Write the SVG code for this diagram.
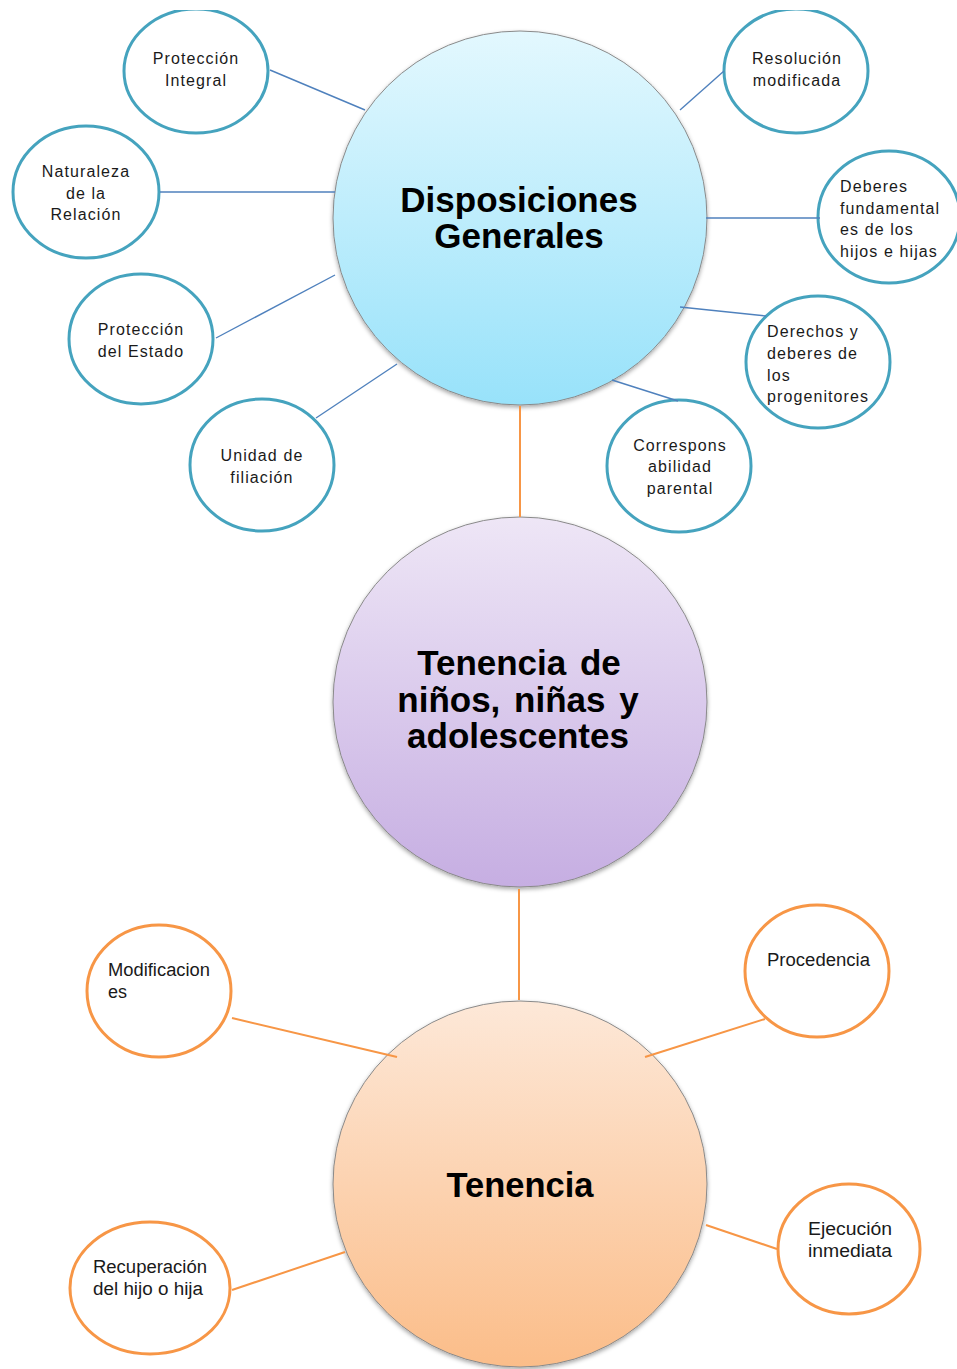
<svg xmlns="http://www.w3.org/2000/svg" width="957" height="1369" viewBox="0 0 957 1369">
  <style>
    .small-blue { fill: #ffffff; stroke: #45A3BE; stroke-width: 3; }
    .small-orange { fill: #ffffff; stroke: #F79646; stroke-width: 3; }
    .big { stroke: #8a8a8a; stroke-width: 1; filter: url(#shadow); }
    .lbl { font-family: "Liberation Sans", Arial, sans-serif; font-size: 16px; fill: #1a1a1a; letter-spacing: 1.1px; }
    .lbl-o { font-family: "Liberation Sans", Arial, sans-serif; font-size: 18px; fill: #1a1a1a; }
    .mid { text-anchor: middle; }
    .title { font-family: "Liberation Sans", Arial, sans-serif; font-size: 35px; font-weight: bold; fill: #000000; text-anchor: middle; }
    .conn-blue { stroke: #4F81BD; stroke-width: 1.4; fill: none; }
    .conn-orange { stroke: #F79646; stroke-width: 2; fill: none; }
  </style>
  <defs>
    <linearGradient id="gBlue" x1="0" y1="0" x2="0" y2="1">
      <stop offset="0" stop-color="#E3F8FE"/>
      <stop offset="1" stop-color="#98E2FA"/>
    </linearGradient>
    <linearGradient id="gPurple" x1="0" y1="0" x2="0" y2="1">
      <stop offset="0" stop-color="#EEE6F6"/>
      <stop offset="1" stop-color="#C6AEE2"/>
    </linearGradient>
    <linearGradient id="gOrange" x1="0" y1="0" x2="0" y2="1">
      <stop offset="0" stop-color="#FDE8D8"/>
      <stop offset="1" stop-color="#FBBD89"/>
    </linearGradient>
    <filter id="shadow" x="-10%" y="-10%" width="120%" height="125%">
      <feDropShadow dx="0" dy="2" stdDeviation="2" flood-color="#000000" flood-opacity="0.35"/>
    </filter>
  </defs>

  <rect x="0" y="0" width="957" height="1369" fill="#ffffff"/>

  <g id="node-disposiciones">
    <ellipse class="big" cx="520" cy="218" rx="187" ry="187" fill="url(#gBlue)"/>
    <text class="title" x="519" y="212">Disposiciones</text>
    <text class="title" x="519" y="248">Generales</text>
  </g>

  <g id="node-tenencia-nna">
    <ellipse class="big" cx="520" cy="702" rx="187" ry="185" fill="url(#gPurple)"/>
    <text class="title" x="519" y="675" word-spacing="4">Tenencia de</text>
    <text class="title" x="518" y="712" word-spacing="4">niños, niñas y</text>
    <text class="title" x="518" y="748">adolescentes</text>
  </g>

  <g id="node-tenencia">
    <ellipse class="big" cx="520" cy="1184" rx="187" ry="183" fill="url(#gOrange)"/>
    <text class="title" x="520" y="1197" textLength="147" lengthAdjust="spacingAndGlyphs">Tenencia</text>
  </g>

  <g id="node-proteccion-integral">
    <ellipse class="small-blue" cx="196" cy="71" rx="72" ry="62"/>
    <text class="lbl mid" x="196" y="64">Protección</text>
    <text class="lbl mid" x="196" y="86">Integral</text>
  </g>

  <g id="node-naturaleza">
    <ellipse class="small-blue" cx="86" cy="192" rx="73" ry="66"/>
    <text class="lbl mid" x="86" y="177">Naturaleza</text>
    <text class="lbl mid" x="86" y="199">de la</text>
    <text class="lbl mid" x="86" y="220">Relación</text>
  </g>

  <g id="node-proteccion-estado">
    <ellipse class="small-blue" cx="141" cy="339" rx="72" ry="65"/>
    <text class="lbl mid" x="141" y="335">Protección</text>
    <text class="lbl mid" x="141" y="357">del Estado</text>
  </g>

  <g id="node-unidad">
    <ellipse class="small-blue" cx="262" cy="465" rx="72" ry="66"/>
    <text class="lbl mid" x="262" y="461">Unidad de</text>
    <text class="lbl mid" x="262" y="483">filiación</text>
  </g>

  <g id="node-resolucion">
    <ellipse class="small-blue" cx="796" cy="71" rx="72" ry="62"/>
    <text class="lbl mid" x="797" y="64">Resolución</text>
    <text class="lbl mid" x="797" y="86">modificada</text>
  </g>

  <g id="node-deberes">
    <ellipse class="small-blue" cx="889" cy="217" rx="71" ry="66"/>
    <text class="lbl" x="840" y="192">Deberes</text>
    <text class="lbl" x="840" y="214">fundamental</text>
    <text class="lbl" x="840" y="235">es de los</text>
    <text class="lbl" x="840" y="257">hijos e hijas</text>
  </g>

  <g id="node-derechos">
    <ellipse class="small-blue" cx="818" cy="362" rx="72" ry="66"/>
    <text class="lbl" x="767" y="337">Derechos y</text>
    <text class="lbl" x="767" y="359">deberes de</text>
    <text class="lbl" x="767" y="381">los</text>
    <text class="lbl" x="767" y="402">progenitores</text>
  </g>

  <g id="node-corresponsabilidad">
    <ellipse class="small-blue" cx="679" cy="466" rx="72" ry="66"/>
    <text class="lbl mid" x="680" y="451">Correspons</text>
    <text class="lbl mid" x="680" y="472">abilidad</text>
    <text class="lbl mid" x="680" y="494">parental</text>
  </g>

  <g id="node-modificaciones">
    <ellipse class="small-orange" cx="159" cy="991" rx="72" ry="66"/>
    <text class="lbl-o" x="108" y="976" textLength="102" lengthAdjust="spacingAndGlyphs">Modificacion</text>
    <text class="lbl-o" x="108" y="998">es</text>
  </g>

  <g id="node-procedencia">
    <ellipse class="small-orange" cx="817" cy="971" rx="72" ry="66"/>
    <text class="lbl-o" x="767" y="966" textLength="103" lengthAdjust="spacingAndGlyphs">Procedencia</text>
  </g>

  <g id="node-ejecucion">
    <ellipse class="small-orange" cx="849" cy="1249" rx="71" ry="65"/>
    <text class="lbl-o" x="808" y="1235" textLength="84" lengthAdjust="spacingAndGlyphs">Ejecución</text>
    <text class="lbl-o" x="808" y="1257" textLength="84" lengthAdjust="spacingAndGlyphs">inmediata</text>
  </g>

  <g id="node-recuperacion">
    <ellipse class="small-orange" cx="150" cy="1288" rx="80" ry="66"/>
    <text class="lbl-o" x="93" y="1273" textLength="114" lengthAdjust="spacingAndGlyphs">Recuperación</text>
    <text class="lbl-o" x="93" y="1295" textLength="110" lengthAdjust="spacingAndGlyphs">del hijo o hija</text>
  </g>

  <g id="connectors">
    <line class="conn-blue" x1="270" y1="70" x2="365" y2="110"/>
    <line class="conn-blue" x1="160" y1="192" x2="335" y2="192"/>
    <line class="conn-blue" x1="216" y1="338" x2="335" y2="275"/>
    <line class="conn-blue" x1="316" y1="418" x2="397" y2="364"/>
    <line class="conn-blue" x1="680" y1="110" x2="724" y2="71"/>
    <line class="conn-blue" x1="706" y1="218" x2="820" y2="218"/>
    <line class="conn-blue" x1="680" y1="307" x2="766" y2="316"/>
    <line class="conn-blue" x1="612" y1="380" x2="678" y2="401"/>
    <line class="conn-orange" x1="520" y1="406" x2="520" y2="517"/>
    <line class="conn-orange" x1="519" y1="889" x2="519" y2="1000"/>
    <line class="conn-orange" x1="232" y1="1018" x2="397" y2="1057"/>
    <line class="conn-orange" x1="645" y1="1057" x2="765" y2="1019"/>
    <line class="conn-orange" x1="706" y1="1225" x2="777" y2="1249"/>
    <line class="conn-orange" x1="232" y1="1290" x2="345" y2="1252"/>
  </g>

  <rect x="0" y="0" width="957" height="10" fill="#ffffff"/>
</svg>
